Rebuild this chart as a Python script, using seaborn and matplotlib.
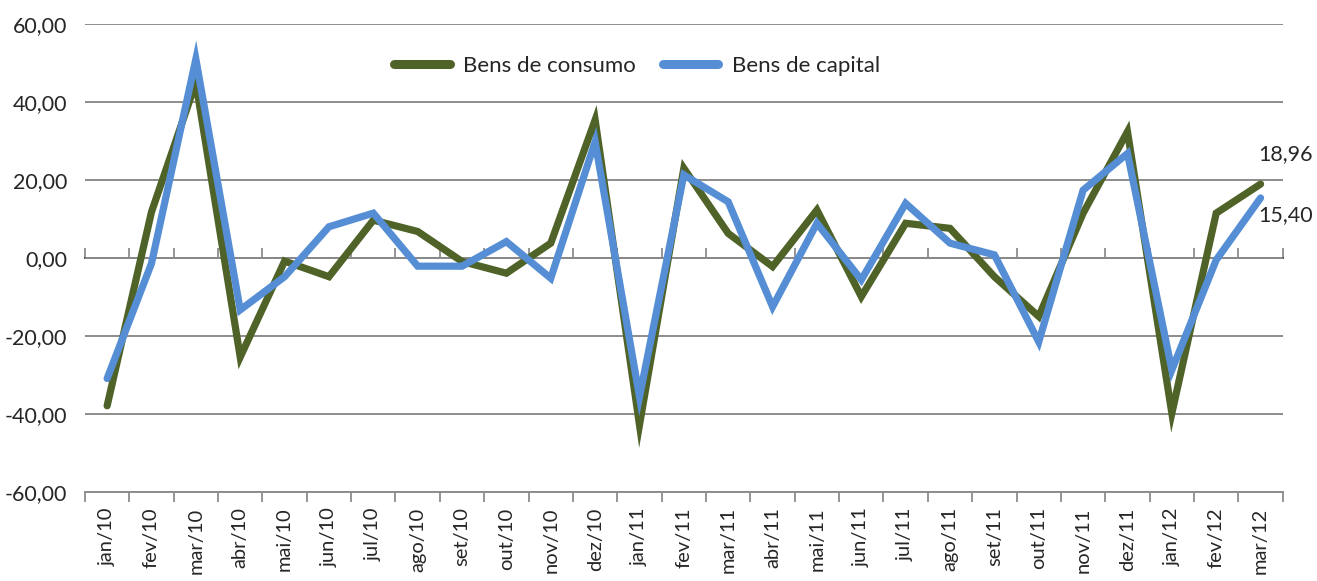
import pandas as pd
import numpy as np
import matplotlib
matplotlib.use("Agg")
import matplotlib.pyplot as plt
import seaborn as sns

# ==============================
# DATA
# ==============================
meses = ["jan/10", "fev/10", "mar/10", "abr/10", "mai/10", "jun/10", "jul/10",
         "ago/10", "set/10", "out/10", "nov/10", "dez/10", "jan/11", "fev/11",
         "mar/11", "abr/11", "mai/11", "jun/11", "jul/11", "ago/11", "set/11",
         "out/11", "nov/11", "dez/11", "jan/12", "fev/12", "mar/12"]

bens_consumo = [-37.9, 11.8, 45.0, -25.4, -0.8, -4.8, 9.7, 6.8, -0.9, -3.9,
                3.8, 35.4, -42.8, 23.0, 6.3, -2.2, 12.3, -9.9, 8.9, 7.6,
                -4.8, -15.0, 11.5, 32.4, -39.8, 11.5, 18.96]

bens_capital = [-30.9, -1.4, 51.0, -13.3, -4.8, 8.0, 11.5, -2.1, -2.1, 4.2,
                -5.2, 29.8, -35.6, 21.3, 14.4, -12.5, 8.9, -5.6, 14.0, 3.8,
                0.8, -21.5, 17.4, 26.8, -28.7, -0.5, 15.40]

series = ["Bens de consumo", "Bens de capital"]
cores = {"Bens de consumo": "#4F6228", "Bens de capital": "#558ED5"}

df = pd.DataFrame({
    "mes": meses * 2,
    "valor": bens_consumo + bens_capital,
    "serie": [series[0]] * len(meses) + [series[1]] * len(meses),
})

def virgula(v):
    return f"{v:.2f}".replace(".", ",")

# ==============================
# PLOT
# ==============================
sns.set_theme(style="white")
plt.rcParams["font.family"] = ["Lato", "DejaVu Sans"]

fig = plt.figure(figsize=(13.17, 5.81), dpi=100)
ax = fig.add_axes([0.0645, 0.1532, 0.9095, 0.8055])

sns.lineplot(data=df, x="mes", y="valor", hue="serie", palette=cores,
             sort=False, linewidth=5.2, ax=ax, solid_capstyle="round",
             solid_joinstyle="miter")

n = len(meses)
ax.set_xlim(-0.5, n - 0.5)
ax.set_ylim(-60, 60)
ax.set_yticks(np.arange(-60, 61, 20))
ax.set_yticklabels([virgula(v) for v in np.arange(-60, 61, 20)], fontsize=15.5)
ax.yaxis.grid(True, color="#8C8C8C", linewidth=1.4)
ax.set_axisbelow(True)
ax.set_xlabel("")
ax.set_ylabel("")

# category boundaries as major ticks, labels on minor ticks
ax.set_xticks(np.arange(-0.5, n, 1.0))
ax.set_xticklabels([])
ax.set_xticks(np.arange(n), minor=True)
ax.set_xticklabels(meses, minor=True, rotation=90, fontsize=14.5)
ax.tick_params(axis="x", which="major", direction="out", length=7,
               width=1.3, color="#8C8C8C", bottom=True)
ax.tick_params(axis="x", which="minor", length=0, pad=11)
ax.tick_params(axis="y", length=0, pad=13)

for s in ["top", "right", "left"]:
    ax.spines[s].set_visible(False)
ax.spines["bottom"].set_color("#8C8C8C")
ax.spines["bottom"].set_linewidth(1.4)

# axis crossing at zero with its tick marks
ax0 = ax.secondary_xaxis(0.5)
ax0.set_xticks(np.arange(-0.5, n, 1.0))
ax0.set_xticklabels([])
ax0.tick_params(direction="out", length=7, width=1.3, color="#8C8C8C")
ax0.spines["bottom"].set_visible(False)

# value labels at the last point
ax.annotate(virgula(bens_consumo[-1]), (n - 1, bens_consumo[-1]),
            xytext=(25, 30), textcoords="offset pixels",
            ha="center", va="center", fontsize=15.5)
ax.annotate(virgula(bens_capital[-1]), (n - 1, bens_capital[-1]),
            xytext=(25, -17), textcoords="offset pixels",
            ha="center", va="center", fontsize=15.5)

leg = ax.legend(loc="upper center", bbox_to_anchor=(0.461, 0.975), ncol=2,
                frameon=False, fontsize=16, handlelength=2.5,
                columnspacing=1.2, handletextpad=0.6)
for h in leg.get_lines():
    h.set_linewidth(6.5)

fig.savefig("out.png", dpi=100)
